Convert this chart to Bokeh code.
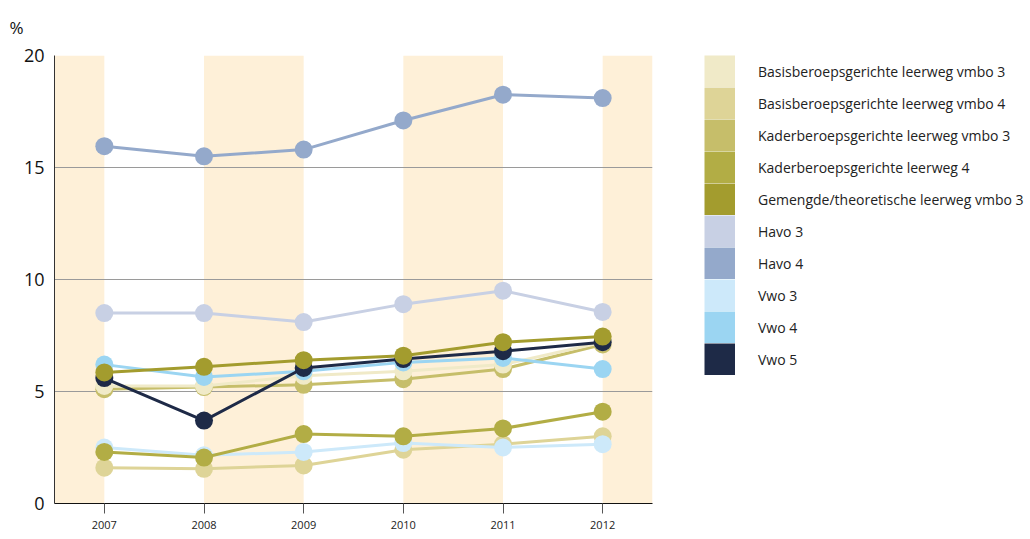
from bokeh.plotting import figure
from bokeh.models import Legend, LegendItem, FixedTicker, ColumnDataSource
from bokeh.embed import file_html
from bokeh.resources import INLINE

years = [2007, 2008, 2009, 2010, 2011, 2012]

basis3 = [5.25, 5.25, 5.7, 5.9, 6.2, 7.2]
basis4 = [1.6, 1.55, 1.7, 2.4, 2.65, 3.0]
kader3 = [5.1, 5.2, 5.3, 5.55, 6.0, 7.1]
kader4 = [2.3, 2.05, 3.1, 3.0, 3.35, 4.1]
gemengde3 = [5.85, 6.1, 6.4, 6.6, 7.2, 7.45]
havo3 = [8.5, 8.5, 8.1, 8.9, 9.5, 8.55]
havo4 = [15.95, 15.5, 15.8, 17.1, 18.25, 18.1]
vwo3 = [2.5, 2.15, 2.3, 2.7, 2.5, 2.65]
vwo4 = [6.2, 5.65, 5.9, 6.3, 6.5, 6.0]
vwo5 = [5.6, 3.7, 6.05, 6.45, 6.8, 7.2]

names = [
    "Basisberoepsgerichte leerweg vmbo 3",
    "Basisberoepsgerichte leerweg vmbo 4",
    "Kaderberoepsgerichte leerweg vmbo 3",
    "Kaderberoepsgerichte leerweg 4",
    "Gemengde/theoretische leerweg vmbo 3",
    "Havo 3",
    "Havo 4",
    "Vwo 3",
    "Vwo 4",
    "Vwo 5",
]
values = [basis3, basis4, kader3, kader4, gemengde3, havo3, havo4, vwo3, vwo4, vwo5]
colors = ["#F0EAC8", "#DED497", "#C6BE6A", "#B2AD45", "#A39C2E",
          "#C8D0E4", "#94A9CB", "#CDE9FA", "#9BD5F2", "#1E2A47"]
draw_order = [1, 7, 3, 5, 6, 2, 0, 8, 9, 4]

yticks = [0, 5, 10, 15, 20]
grid_lines = [5, 10, 15]

FONT = "Open Sans"

p = figure(output_backend="svg", toolbar_location=None,
           frame_width=598, frame_height=448,
           min_border_left=54, min_border_top=55, min_border_bottom=30,
           min_border_right=370,
           x_range=(years[0] - 0.5, years[-1] + 0.5), y_range=(0, 20),
           title="%", title_location="above")
p.outline_line_color = None
p.background_fill_color = "white"
p.border_fill_color = "white"

p.title.text_font = FONT
p.title.text_font_size = "17px"
p.title.text_font_style = "normal"
p.title.text_color = "#111111"
p.title.align = "left"
p.title.offset = -45
p.title.standoff = 30
p.title.vertical_align = "top"

# alternating shaded year bands
band_left = [years[0] - 0.5] + [years[i] for i in range(1, len(years), 2)]
band_right = [years[0]] + [min(years[i] + 1, years[-1] + 0.5) for i in range(1, len(years), 2)]
p.quad(left=band_left, right=band_right, bottom=0, top=20,
       fill_color="#FEF0D8", line_color=None, level="underlay")

p.xgrid.visible = False
p.ygrid.ticker = FixedTicker(ticks=grid_lines)
p.ygrid.grid_line_color = "#9A9A9A"
p.ygrid.grid_line_width = 1

p.xaxis.ticker = FixedTicker(ticks=years)
p.xaxis.major_tick_out = 10
p.xaxis.major_tick_in = 0
p.xaxis.minor_tick_line_color = None
p.xaxis.axis_line_color = "#111111"
p.xaxis.major_tick_line_color = "#555555"
p.xaxis.major_label_text_font = FONT
p.xaxis.major_label_text_font_size = "11px"
p.xaxis.major_label_text_color = "#222222"
p.xaxis.major_label_standoff = 7

p.yaxis.ticker = FixedTicker(ticks=yticks)
p.yaxis.major_tick_out = 0
p.yaxis.major_tick_in = 0
p.yaxis.minor_tick_line_color = None
p.yaxis.axis_line_color = "#333333"
p.yaxis.major_label_text_font = FONT
p.yaxis.major_label_text_font_size = "18px"
p.yaxis.major_label_text_color = "#111111"
p.yaxis.major_label_standoff = 10

for i in draw_order:
    src = ColumnDataSource(dict(x=years, y=values[i]))
    p.line("x", "y", source=src, line_color=colors[i], line_width=3)
    p.scatter("x", "y", source=src, size=18, fill_color=colors[i], line_color=None)

# legend swatches: single-point line renderers (invisible in the plot) drawn as thick bars
items = []
for i, name in enumerate(names):
    r = p.line(x=[years[0]], y=[values[i][0]], line_color=colors[i], line_width=32)
    items.append(LegendItem(label=name, renderers=[r]))

legend = Legend(items=items, location=(52, 448 - 320),
                glyph_width=31, glyph_height=32, spacing=0, padding=0,
                margin=0, label_standoff=23,
                label_text_font=FONT, label_text_font_size="14px",
                label_text_color="#222222",
                border_line_color=None, background_fill_alpha=0)
p.add_layout(legend, "right")

open("out.html", "w").write(file_html(p, INLINE))
